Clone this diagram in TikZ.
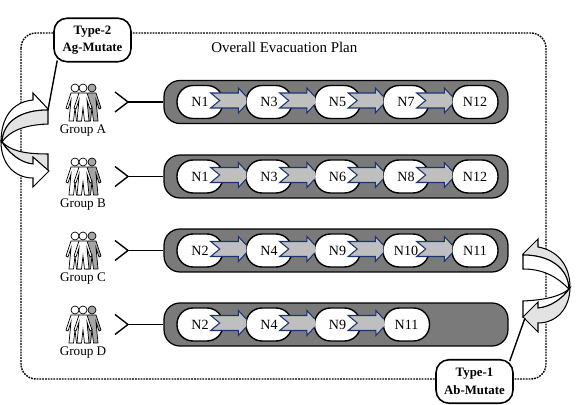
\documentclass[tikz,border=0pt]{standalone}
\usepackage{fontspec}
\setmainfont{Liberation Serif}
\usetikzlibrary{arrows.meta}
\usetikzlibrary{positioning}
\definecolor{myarrowcolor}{rgb}{0.1,0.2,0.45}
\definecolor{myswapcolor}{gray}{0.89}
\tikzset{
  planbox/.style={draw=black, line width=0.8pt, dash pattern=on 1pt off 0.6pt, rounded corners=0.3cm},
  mutatebox/.style={draw=black, fill=white, line width=0.9pt, rounded corners=0.26cm, minimum width=1.54cm, minimum height=0.87cm, inner sep=0pt, align=center, font=\fontsize{7.3}{10}\selectfont\bfseries},
  routebar/.style={draw=black, fill=black!52, line width=0.7pt, rounded corners=0.32cm, minimum width=6.88cm, minimum height=0.86cm, inner sep=0pt},
  routenode/.style={draw=black, fill=white, line width=0.8pt, rounded corners=0.32cm, minimum width=0.92cm, minimum height=0.66cm, inner sep=0pt, font=\fontsize{8}{9}\selectfont},
  flowarrow/.style={draw=myarrowcolor, fill=black!25, line width=0.6pt},
  forkline/.style={draw=black, line width=0.8pt},
  swapline/.style={draw=black, line width=0.6pt},
  grouplabel/.style={font=\fontsize{7.5}{9}\selectfont, inner sep=0pt},
  pics/person/.style={code={
    \draw[line width=0.4pt, fill=#1] (-4,5) -- (4,5) -- (9,20) -- (7,21) -- (4,12) -- (6,33) -- (1.5,33) -- (0,20) -- (-1.5,33) -- (-6,33) -- (-4,12) -- (-7,21) -- (-9,20) -- cycle;
    \draw[line width=0.4pt, fill=#1] (0,0) circle (4);
  }},
  pics/people/.style={code={
    \pic at (-8,0) {person=white};
    \pic at (9,0) {person=black!35};
    \pic at (0,0) {person=white};
  }}
}
\newcommand{\flowlink}[2]{
\draw[flowarrow] ([shift={(1,-5.5)}]#2.west) -- ([shift={(-7,-14)}]#2.west) -- ([shift={(-7,-9)}]#2.west) -- ([shift={(-13,-9)}]#1.east) -- ([shift={(-4,-1.5)}]#1.east) -- ([shift={(-13,6)}]#1.east) -- ([shift={(-7,6)}]#2.west) -- ([shift={(-7,11)}]#2.west) -- ([shift={(1,2.5)}]#2.west);
}
\begin{document}
\begin{tikzpicture}[x=0.02cm,y=-0.02cm]
\useasboundingbox (0,0) rectangle (576,405);
\draw[planbox] (21,33) rectangle (546,379);
\node[anchor=west, inner sep=0pt, font=\fontsize{8.5}{10}\selectfont] (plantitle) at (211,47) {Overall Evacuation Plan};

\node[routebar] (barA) at (336,102) {};
\node[routebar] (barB) at (336,176.5) {};
\node[routebar] (barC) at (336,250.5) {};
\node[routebar] (barD) at (336,324.5) {};

\pic at (83,88) {people};
\pic at (83,162) {people};
\pic at (83,236) {people};
\pic at (83,310) {people};
\node[grouplabel] (groupA) at (83,131) {Group A};
\node[grouplabel] (groupB) at (83,205) {Group B};
\node[grouplabel] (groupC) at (83,279) {Group C};
\node[grouplabel] (groupD) at (83,353) {Group D};

\coordinate (forkA) at (128,102);
\coordinate (forkB) at (128,176.5);
\coordinate (forkC) at (128,250.5);
\coordinate (forkD) at (128,324.5);
\coordinate (tipAa) at (115,92);
\coordinate (tipAb) at (115,112);
\coordinate (tipBa) at (115,166.5);
\coordinate (tipBb) at (115,186.5);
\coordinate (tipCa) at (115,240.5);
\coordinate (tipCb) at (115,260.5);
\coordinate (tipDa) at (115,314.5);
\coordinate (tipDb) at (115,334.5);
\draw[forkline] (barA.west) -- (forkA);
\draw[forkline] (tipAa) -- (forkA) -- (tipAb);
\draw[forkline] (barB.west) -- (forkB);
\draw[forkline] (tipBa) -- (forkB) -- (tipBb);
\draw[forkline] (barC.west) -- (forkC);
\draw[forkline] (tipCa) -- (forkC) -- (tipCb);
\draw[forkline] (barD.west) -- (forkD);
\draw[forkline] (tipDa) -- (forkD) -- (tipDb);

\node[routenode] (a1) at (200,102) {N1};
\node[routenode] (a2) at (269,102) {N3};
\node[routenode] (a3) at (337.5,102) {N5};
\node[routenode] (a4) at (406,102) {N7};
\node[routenode] (a5) at (475,102) {N12};
\flowlink{a1}{a2}
\flowlink{a2}{a3}
\flowlink{a3}{a4}
\flowlink{a4}{a5}

\node[routenode] (b1) at (200,176.5) {N1};
\node[routenode] (b2) at (269,176.5) {N3};
\node[routenode] (b3) at (337.5,176.5) {N6};
\node[routenode] (b4) at (406,176.5) {N8};
\node[routenode] (b5) at (475,176.5) {N12};
\flowlink{b1}{b2}
\flowlink{b2}{b3}
\flowlink{b3}{b4}
\flowlink{b4}{b5}

\node[routenode] (c1) at (200,250.5) {N2};
\node[routenode] (c2) at (269,250.5) {N4};
\node[routenode] (c3) at (337.5,250.5) {N9};
\node[routenode] (c4) at (406,250.5) {N10};
\node[routenode] (c5) at (475,250.5) {N11};
\flowlink{c1}{c2}
\flowlink{c2}{c3}
\flowlink{c3}{c4}
\flowlink{c4}{c5}

\node[routenode] (d1) at (200,324.5) {N2};
\node[routenode] (d2) at (269,324.5) {N4};
\node[routenode] (d3) at (337.5,324.5) {N9};
\node[routenode] (d4) at (406.5,324.5) {N11};
\flowlink{d1}{d2}
\flowlink{d2}{d3}
\flowlink{d3}{d4}

\draw[swapline, fill=myswapcolor] (2,142) .. controls (10,150) and (22,154) .. (48,154) -- (48,170) -- (33,164) .. controls (20,163) and (8,152) .. (2,142) -- cycle;
\draw[swapline, fill=white] (48,109) -- (33,93) -- (33,100) .. controls (12,102) and (1,118) .. (1,142) .. controls (1,163) and (14,178) .. (33,178) -- (33,187) -- (49,171) -- (33,157) -- (33,164) .. controls (20,163) and (8,152) .. (2,142) .. controls (3,122) and (20,110) .. (48,110) -- cycle;
\draw[swapline, fill=myswapcolor] (48,110) .. controls (20,110) and (3,122) .. (2,142) .. controls (9,132) and (22,125) .. (48,124) -- cycle;

\draw[swapline, fill=white] (569,289) .. controls (561,296) and (546,300) .. (523,301) -- (523,317) -- (538,308) .. controls (551,307) and (563,298) .. (569,289) -- cycle;
\draw[swapline, fill=myswapcolor] (523,254) -- (538,239) -- (538,247) .. controls (556,250) and (570,264) .. (570,287) .. controls (570,308) and (557,323) .. (538,323) -- (538,332) -- (523,317) -- (538,302) -- (538,308) .. controls (551,307) and (563,298) .. (569,289) .. controls (568,268) and (550,255) .. (523,255) -- cycle;
\draw[swapline, fill=white] (523,255) .. controls (550,255) and (568,268) .. (569,289) .. controls (558,278) and (545,269) .. (523,269) -- cycle;

\coordinate (swapleft) at (48,110);
\coordinate (swapright) at (525,318);
\node[mutatebox] (typetwo) at (92.5,40) {Type-2\\Ag-Mutate};
\node[mutatebox] (typeone) at (474.5,381.5) {Type-1\\Ab-Mutate};
\draw[forkline] ([shift={(4,-2)}]typetwo.south west) -- (swapleft);
\draw[forkline] ([shift={(-4,2)}]typeone.north east) -- (swapright);
\end{tikzpicture}
\end{document}
